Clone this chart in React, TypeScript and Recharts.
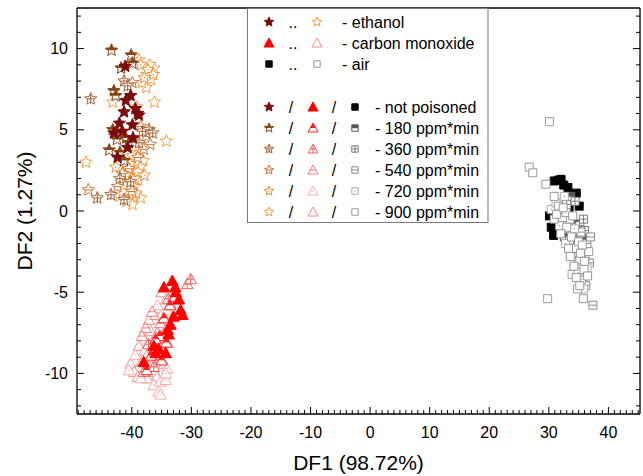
import { ScatterChart, Scatter, XAxis, YAxis, Legend } from 'recharts';

type Pt = [number, number];

const levels = ['not poisoned', '180 ppm*min', '360 ppm*min', '540 ppm*min', '720 ppm*min', '900 ppm*min'];
const gases = ['ethanol', 'carbon monoxide', 'air'];

const xMajor = [-40, -30, -20, -10, 0, 10, 20, 30, 40];
const yMajor = [-10, -5, 0, 5, 10];

// ethanol, one list per poisoning level
const ethanol0: Pt[] = [[-41.1, 8.9], [-40.2, 7.1], [-41.0, 6.8], [-41.3, 6.1], [-39.4, 6.3], [-39.0, 6.0], [-38.8, 5.9], [-42.1, 5.4], [-39.9, 5.3], [-43.0, 4.8], [-40.7, 3.9], [-42.4, 3.3], [-39.8, 4.5], [-41.6, 4.9]];
const ethanol180: Pt[] = [[-43.4, 9.9], [-40.1, 9.6], [-39.9, 9.1], [-41.8, 8.8], [-43.0, 7.4], [-42.7, 7.1], [-43.2, 5.0], [-42.5, 4.4], [-41.0, 4.5], [-43.8, 3.75], [-41.3, 3.1], [-40.5, 4.2], [-42.0, 3.6]];
const ethanol360: Pt[] = [[-41.3, 8.0], [-40.7, 7.7], [-46.9, 6.9], [-45.8, 0.8], [-43.5, 1.0], [-41.3, 0.7], [-38.2, 4.9], [-37.1, 5.0], [-36.5, 4.8], [-38.8, 4.2], [-40.2, 1.8], [-42.0, 2.0]];
const ethanol540: Pt[] = [[-39.9, 7.9], [-47.3, 1.3], [-37.6, 4.6], [-36.9, 4.1], [-38.0, 3.8], [-39.0, 3.3], [-40.5, 2.6], [-41.6, 2.3], [-40.0, 1.2], [-42.4, 1.5], [-38.5, 5.2]];
const ethanol720: Pt[] = [[-38.5, 9.0], [-37.3, 8.7], [-36.4, 8.4], [-37.9, 8.2], [-42.7, 2.7], [-41.1, 2.2], [-39.6, 1.5], [-40.9, 0.6], [-39.0, 2.4], [-38.6, 3.6], [-39.2, 6.4], [-40.3, 2.9], [-39.3, 1.1], [-41.4, 1.6], [-37.9, 2.2]];
const ethanol900: Pt[] = [[-38.8, 9.3], [-36.3, 8.8], [-37.0, 9.0], [-36.2, 6.7], [-43.2, 6.7], [-34.2, 4.3], [-39.3, 3.0], [-47.7, 3.0], [-40.2, 2.5], [-41.8, 1.8], [-39.8, 0.9], [-38.9, 1.9], [-38.1, 3.1], [-42.1, 0.9], [-37.6, 7.6], [-38.3, 7.9], [-40.5, 1.5], [-39.5, 2.0], [-41.0, 2.9], [-40.0, 3.4], [-38.6, 2.7], [-39.9, 0.4], [-38.5, 0.8], [-41.5, 1.2], [-37.5, 8.4], [-36.8, 8.1]];

// carbon monoxide
const co0: Pt[] = [[-33.2, -4.3], [-34.6, -4.7], [-32.7, -4.7], [-32.1, -5.45], [-31.8, -6.1], [-31.5, -6.4], [-33.5, -7.0], [-33.8, -7.6], [-36.3, -8.3], [-36.0, -8.75], [-38.0, -9.3], [-34.3, -8.75], [-35.5, -8.5], [-32.6, -5.0], [-33.0, -6.5], [-34.0, -7.3]];
const co180: Pt[] = [[-32.9, -5.3], [-33.6, -5.8], [-34.6, -6.6], [-35.3, -7.7], [-36.8, -8.9], [-37.5, -9.8], [-35.0, -9.2], [-34.2, -8.1], [-36.0, -7.9]];
const co360: Pt[] = [[-30.7, -4.5], [-30.1, -4.2], [-36.3, -9.6], [-38.0, -9.9], [-35.8, -8.9], [-34.8, -8.6], [-37.2, -8.2], [-33.9, -5.4]];
const co540: Pt[] = [[-35.2, -6.9], [-34.3, -7.3], [-35.7, -7.5], [-34.9, -7.8], [-34.1, -8.1], [-36.6, -6.2], [-37.7, -7.2], [-38.3, -7.7], [-33.5, -5.7]];
const co720: Pt[] = [[-36.3, -10.7], [-35.2, -10.5], [-35.5, -11.1], [-35.2, -11.3], [-34.3, -10.4], [-34.9, -6.3], [-34.1, -6.1], [-35.7, -5.8], [-34.3, -5.45], [-34.1, -9.7], [-34.3, -10.0], [-39.4, -8.85], [-40.5, -9.8], [-36.9, -9.0], [-38.5, -10.3], [-37.8, -7.9]];
const co900: Pt[] = [[-40.2, -9.4], [-38.8, -8.3], [-37.1, -6.7], [-35.5, -9.05], [-34.6, -9.4], [-37.1, -9.6], [-38.8, -9.6], [-39.6, -9.9], [-36.0, -6.4], [-37.9, -8.6], [-35.0, -5.0], [-36.8, -7.4], [-39.0, -10.2], [-36.4, -8.0], [-37.5, -8.9], [-38.2, -9.2], [-36.2, -9.9], [-35.8, -10.2], [-37.4, -10.3], [-33.8, -6.5], [-35.4, -6.0]];

// air
const air0: Pt[] = [[30.9, 1.85], [32.05, 1.95], [33.2, 1.45], [34.6, 1.1], [35.1, 0.3], [30.1, -0.3], [30.4, -1.0], [31.2, -1.1], [33.4, 0.2], [31.6, 1.9], [32.5, 1.6], [30.8, -1.5]];
const air180: Pt[] = [[34.8, -0.8], [36.3, -1.85], [33.2, -1.95], [35.5, -1.4], [34.0, -2.2], [32.6, -1.6], [33.7, 0.9]];
const air360: Pt[] = [[34.0, -1.0], [35.2, -0.9], [36.0, -1.2], [34.7, -1.6], [33.5, -1.8], [35.8, -0.5], [33.0, 0.4], [34.4, 0.6]];
const air540: Pt[] = [[37.4, -5.8], [36.4, -2.0], [37.0, -1.6], [36.8, -3.2], [35.7, -4.3], [36.2, -4.6], [35.4, -1.3], [34.1, -2.6]];
const air720: Pt[] = [[30.4, 0.1], [31.2, 0.5], [32.6, 0.9], [33.5, -0.5], [34.3, -1.1], [32.8, -2.0], [35.0, -3.3], [36.1, -2.8], [33.9, -3.9], [35.5, -4.2], [31.8, -0.9], [36.4, -3.5], [35.8, -4.8], [34.9, -3.8]];
const air900: Pt[] = [[30.1, 5.5], [26.7, 2.7], [27.3, 2.35], [29.8, -5.4], [34.8, -4.8], [35.8, -5.4], [29.5, 1.65], [30.9, 0.9], [31.6, 0.3], [32.3, -0.4], [33.0, -1.0], [33.8, -1.6], [34.5, -2.3], [35.2, -3.0], [35.9, -3.6], [36.5, -4.0], [33.6, -2.8], [34.2, -3.4], [35.0, -1.9], [32.0, -1.4], [30.9, -0.5], [36.7, -2.5], [35.6, -2.1], [31.3, -0.2], [32.9, -0.1], [34.0, -0.3], [35.3, -2.6], [36.0, -3.1], [34.6, -4.1], [35.2, -4.6], [33.3, -2.3], [32.4, 0.2]];

const ethanolColors = ['#7c0a0a', '#8b4513', '#a8653a', '#cf7a3c', '#f58d30', '#ff9c3e'];
const coColors = ['#ff0000', '#ff1f1f', '#ff5a5a', '#ff7a7a', '#ffaaaa', '#ff8a8a'];
const airColors = ['#000000', '#555555', '#777777', '#888888', '#aaaaaa', '#999999'];
const modes = ['full', 'half', 'plus', 'hline', 'dot', 'open'];

const groups = [
  { gas: gases[0], shape: 'star', colors: ethanolColors, sets: [ethanol0, ethanol180, ethanol360, ethanol540, ethanol720, ethanol900] },
  { gas: gases[1], shape: 'tri', colors: coColors, sets: [co0, co180, co360, co540, co720, co900] },
  { gas: gases[2], shape: 'square', colors: airColors, sets: [air0, air180, air360, air540, air720, air900] },
];

const FONT = "Arial, 'Liberation Sans', sans-serif";

function pathFor(shape: string, cx: number, cy: number, s: number) {
  if (shape === 'star') {
    const R = s / 2;
    const r = R * 0.45;
    let d = '';
    for (let i = 0; i < 10; i++) {
      const a = (-90 + i * 36) * Math.PI / 180;
      const rr = i % 2 === 0 ? R : r;
      d += (i === 0 ? 'M' : 'L') + (cx + rr * Math.cos(a)).toFixed(2) + ',' + (cy + rr * Math.sin(a)).toFixed(2);
    }
    return d + 'Z';
  }
  if (shape === 'tri') {
    return `M${cx},${cy - s * 0.5}L${cx + s * 0.5},${cy + s * 0.4}L${cx - s * 0.5},${cy + s * 0.4}Z`;
  }
  const h = s * 0.4;
  return `M${cx - h},${cy - h}H${cx + h}V${cy + h}H${cx - h}Z`;
}

function Marker({ cx, cy, shape, mode, color, size }: any) {
  const d = pathFor(shape, cx, cy, size);
  if (mode === 'full') return <path d={d} fill={color} stroke={color} strokeWidth={1} />;
  const h = size / 2;
  return (
    <g>
      <path d={d} fill="#fff" stroke={color} strokeWidth={1} />
      {mode === 'half' && (
        <>
          <defs>
            <clipPath id="topHalf" clipPathUnits="objectBoundingBox">
              <rect x="0" y="0" width="1" height="0.55" />
            </clipPath>
          </defs>
          <path d={d} fill={color} clipPath="url(#topHalf)" />
        </>
      )}
      {mode === 'plus' && (
        <path d={`M${cx - h * 0.6},${cy}H${cx + h * 0.6}M${cx},${cy - h * 0.8}V${cy + h * 0.8}`} stroke={color} strokeWidth={1} />
      )}
      {mode === 'hline' && <path d={`M${cx - h * 0.7},${cy}H${cx + h * 0.7}`} stroke={color} strokeWidth={1} />}
      {mode === 'dot' && <circle cx={cx} cy={cy} r={0.8} fill={color} />}
    </g>
  );
}

const plotSize: Record<string, number> = { star: 13, tri: 11.5, square: 10 };

const LeftTick = (p: any) => {
  const v = p.payload.value;
  const major = yMajor.includes(v);
  return (
    <g>
      <line x1={p.x} x2={p.x + (major ? 7 : 4)} y1={p.y} y2={p.y} stroke="#000" strokeWidth={1} />
      {major && (
        <text x={p.x - 9} y={p.y + 5.5} textAnchor="end" fontSize={16} fontFamily={FONT} fill="#000">{v}</text>
      )}
    </g>
  );
};
const RightTick = (p: any) => {
  const major = yMajor.includes(p.payload.value);
  return <line x1={p.x} x2={p.x - (major ? 7 : 4)} y1={p.y} y2={p.y} stroke="#000" strokeWidth={1} />;
};
const BottomTick = (p: any) => {
  const v = p.payload.value;
  const major = xMajor.includes(v);
  return (
    <g>
      <line x1={p.x} x2={p.x} y1={p.y} y2={p.y - (major ? 7 : 4)} stroke="#000" strokeWidth={1} />
      {major && (
        <text x={p.x} y={p.y + 24} textAnchor="middle" fontSize={16} fontFamily={FONT} fill="#000">{v}</text>
      )}
    </g>
  );
};
const TopTick = (p: any) => {
  const major = xMajor.includes(p.payload.value);
  return <line x1={p.x} x2={p.x} y1={p.y} y2={p.y + (major ? 7 : 4)} stroke="#000" strokeWidth={1} />;
};

const xTicks = Array.from({ length: 95 }, (_, i) => i - 49);
const yTicks = Array.from({ length: 25 }, (_, i) => i - 12);

function LegendBox() {
  const rowsTop = [14, 35, 56];
  const rowsLevel = [99, 120, 141, 162, 183, 204];
  const txt = (x: number, y: number, s: string, anchor = 'start') => (
    <text x={x} y={y + 5.5} fontSize={16} fontFamily={FONT} fill="#000" textAnchor={anchor as any}>{s}</text>
  );
  return (
    <svg width={242} height={216} style={{ display: 'block' }}>
      <rect x={0.5} y={0.5} width={240.5} height={214} fill="#fff" stroke="#7a7a7a" strokeWidth={1} />
      {groups.map((g, i) => (
        <g key={g.gas}>
          <Marker cx={22} cy={rowsTop[i]} shape={g.shape} mode="full" color={g.colors[0]} size={g.shape === 'square' ? 8 : 10} />
          {txt(46, rowsTop[i], '..', 'middle')}
          <Marker cx={70} cy={rowsTop[i]} shape={g.shape} mode="open" color={g.colors[5]} size={g.shape === 'square' ? 8 : 10} />
          {txt(95, rowsTop[i], '- ' + g.gas)}
        </g>
      ))}
      {levels.map((lv, j) => (
        <g key={lv}>
          <Marker cx={22} cy={rowsLevel[j]} shape="star" mode={modes[j]} color={ethanolColors[j]} size={10} />
          {txt(44, rowsLevel[j], '/', 'middle')}
          <Marker cx={66} cy={rowsLevel[j]} shape="tri" mode={modes[j]} color={coColors[j]} size={10} />
          {txt(87, rowsLevel[j], '/', 'middle')}
          <Marker cx={108} cy={rowsLevel[j]} shape="square" mode={modes[j]} color={airColors[j]} size={8} />
          {txt(128, rowsLevel[j], '- ' + lv)}
        </g>
      ))}
    </svg>
  );
}

export default function App() {
  const order = (gi: number) => (gi === 2 ? [0, 1, 2, 3, 4, 5] : [5, 4, 3, 2, 1, 0]);
  return (
    <div style={{ position: 'absolute', left: 0, top: 0, background: '#fff' }}>
      <ScatterChart width={643} height={476} margin={{ top: 7, right: 2, bottom: 0, left: 0 }}>
        <XAxis
          xAxisId={0}
          type="number"
          dataKey="x"
          domain={[-49.2, 45.3]}
          allowDataOverflow
          ticks={xTicks}
          interval={0}
          tickSize={0}
          tickMargin={0}
          tickLine={false}
          tick={<BottomTick />}
          axisLine={{ stroke: '#000', strokeWidth: 1.3 }}
          height={62}
          label={{ value: 'DF1 (98.72%)', position: 'insideBottom', offset: 6, fontSize: 21, fill: '#000', fontFamily: FONT }}
        />
        <XAxis
          xAxisId="top"
          orientation="top"
          type="number"
          domain={[-49.2, 45.3]}
          allowDataOverflow
          ticks={xTicks}
          interval={0}
          tickSize={0}
          tickMargin={0}
          tickLine={false}
          tick={<TopTick />}
          axisLine={{ stroke: '#000', strokeWidth: 1.3 }}
          height={1}
        />
        <YAxis
          yAxisId={0}
          type="number"
          dataKey="y"
          domain={[-12.5, 12.5]}
          allowDataOverflow
          ticks={yTicks}
          interval={0}
          tickSize={0}
          tickMargin={0}
          tickLine={false}
          tick={<LeftTick />}
          axisLine={{ stroke: '#000', strokeWidth: 1.3 }}
          width={77}
          label={{ value: 'DF2 (1.27%)', angle: -90, position: 'insideLeft', offset: 25, fontSize: 21, fill: '#000', fontFamily: FONT, style: { textAnchor: 'middle' } }}
        />
        <YAxis
          yAxisId="right"
          orientation="right"
          type="number"
          domain={[-12.5, 12.5]}
          allowDataOverflow
          ticks={yTicks}
          interval={0}
          tickSize={0}
          tickMargin={0}
          tickLine={false}
          tick={<RightTick />}
          axisLine={{ stroke: '#000', strokeWidth: 1.3 }}
          width={1}
        />
        {groups.map((g, gi) =>
          order(gi).map((li) => (
            <Scatter
              key={g.gas + li}
              name={g.gas + ' ' + levels[li]}
              data={g.sets[li].map(([x, y]) => ({ x, y }))}
              isAnimationActive={false}
              shape={(p: any) => (
                <Marker cx={p.cx} cy={p.cy} shape={g.shape} mode={modes[li]} color={g.colors[li]} size={plotSize[g.shape]} />
              )}
            />
          ))
        )}
        <Legend
          layout="vertical"
          align="center"
          verticalAlign="middle"
          wrapperStyle={{ position: 'absolute', left: 247, top: 8, width: 242, height: 216 }}
          content={() => <LegendBox />}
        />
      </ScatterChart>
    </div>
  );
}
